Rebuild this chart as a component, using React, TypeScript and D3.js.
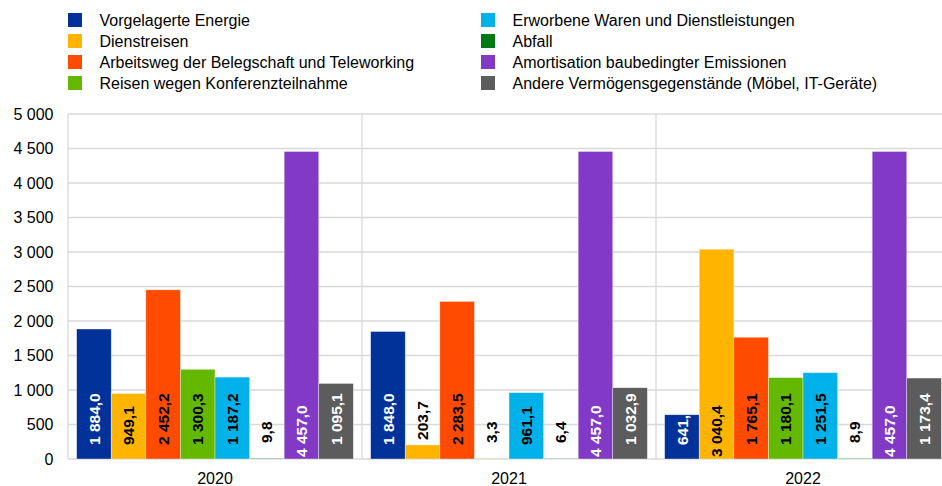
import React, { useEffect, useRef } from "react";
import * as d3 from "d3";

const years = ["2020", "2021", "2022"];
const seriesNames = [
  "Vorgelagerte Energie",
  "Dienstreisen",
  "Arbeitsweg der Belegschaft und Teleworking",
  "Reisen wegen Konferenzteilnahme",
  "Erworbene Waren und Dienstleistungen",
  "Abfall",
  "Amortisation baubedingter Emissionen",
  "Andere Vermögensgegenstände (Möbel, IT-Geräte)",
];
const colors = ["#003299", "#FFB400", "#FF4B00", "#65B800", "#00B1EA", "#007816", "#8139C6", "#5C5C5C"];
const labelColors = ["#fff", "#000", "#000", "#000", "#000", "#000", "#fff", "#fff"];
const values2020 = [1884.0, 949.1, 2452.2, 1300.3, 1187.2, 9.8, 4457.0, 1095.1];
const values2021 = [1848.0, 203.7, 2283.5, 3.3, 961.1, 6.4, 4457.0, 1032.9];
const values2022 = [641.3, 3040.4, 1765.1, 1180.1, 1251.5, 8.9, 4457.0, 1173.4];
const yTicks = [0, 500, 1000, 1500, 2000, 2500, 3000, 3500, 4000, 4500, 5000];

const W = 942;
const H = 486;
const FONT = "'Liberation Sans', Arial, sans-serif";

export default function App() {
  const ref = useRef<SVGSVGElement>(null);
  useEffect(() => {
    const svg = d3.select(ref.current);
    svg.selectAll("*").remove();
    const locale = d3.formatLocale({ decimal: ",", thousands: " ", grouping: [3], currency: ["", ""] });
    const fmtTick = locale.format(",.0f");
    const fmtVal = locale.format(",.1f");
    const data = [values2020, values2021, values2022];

    const left = 68, right = 950, top = 114, bottom = 459;
    const x0 = d3.scaleBand().domain(years).range([left, right]).paddingInner(0).paddingOuter(0);
    const x1 = d3.scaleBand().domain(seriesNames).range([0, x0.bandwidth()]).paddingOuter(0.25).paddingInner(0);
    const y = d3.scaleLinear().domain([0, 5000]).range([bottom, top]);

    // grid
    svg.append("g").selectAll("line").data(yTicks).join("line")
      .attr("x1", left).attr("x2", right).attr("y1", (d) => y(d)).attr("y2", (d) => y(d))
      .attr("stroke", "#d9d9d9").attr("stroke-width", 1.3);
    svg.append("g").selectAll("line").data(years.slice(1).concat(["end"])).join("line")
      .attr("x1", (d, i) => left + (i + 1) * x0.bandwidth()).attr("x2", (d, i) => left + (i + 1) * x0.bandwidth())
      .attr("y1", top).attr("y2", bottom).attr("stroke", "#d9d9d9").attr("stroke-width", 1.3);
    svg.append("line").attr("x1", left).attr("x2", left).attr("y1", top).attr("y2", bottom)
      .attr("stroke", "#d9d9d9").attr("stroke-width", 1.3);

    // y ticks
    svg.append("g").selectAll("text").data(yTicks).join("text")
      .attr("x", 53.5).attr("y", (d) => y(d)).attr("dy", "0.35em").attr("text-anchor", "end")
      .attr("font-family", FONT).attr("font-size", 16).attr("fill", "#000")
      .text((d) => fmtTick(d));

    // x labels
    svg.append("g").selectAll("text").data(years).join("text")
      .attr("x", (d) => (x0(d) as number) + x0.bandwidth() / 2).attr("y", 484)
      .attr("text-anchor", "middle").attr("font-family", FONT).attr("font-size", 16).attr("fill", "#000")
      .text((d) => d);

    // bars
    years.forEach((yr, gi) => {
      const g = svg.append("g").attr("transform", `translate(${x0(yr)},0)`);
      const rows = seriesNames.map((s, i) => ({ s, i, v: data[gi][i] }));
      g.selectAll("rect").data(rows).join("rect")
        .attr("x", (d) => x1(d.s) as number).attr("width", x1.bandwidth())
        .attr("y", (d) => y(d.v)).attr("height", (d) => bottom - y(d.v))
        .attr("fill", (d) => colors[d.i]).attr("stroke", "rgba(255,255,255,0.6)").attr("stroke-width", 0.6);
      g.selectAll("text").data(rows).join("text")
        .attr("transform", (d) => {
          const cx = (x1(d.s) as number) + x1.bandwidth() / 2;
          const inside = bottom - y(d.v) > 30;
          let by = d.v > 3000 ? bottom - 2 : bottom - 14;
          if (!inside) by = Math.min(bottom - 16, y(d.v) - 5);
          return `translate(${cx},${by}) rotate(-90)`;
        })
        .attr("dy", "0.36em").attr("text-anchor", "start")
        .attr("font-family", FONT).attr("font-size", 15.5).attr("font-weight", "bold")
        .attr("fill", (d) => (bottom - y(d.v) > 30 ? labelColors[d.i] : "#000"))
        .text((d) => fmtVal(d.v));
    });

    // legend
    const lg = svg.append("g");
    const rowsL = seriesNames.map((s, i) => ({ s, i, col: i < 4 ? 0 : 1, row: i % 4 }));
    const colX = [68, 481];
    lg.selectAll("rect").data(rowsL).join("rect")
      .attr("x", (d) => colX[d.col]).attr("y", (d) => 13 + d.row * 21).attr("width", 14).attr("height", 14)
      .attr("fill", (d) => colors[d.i]);
    lg.selectAll("text").data(rowsL).join("text")
      .attr("x", (d) => colX[d.col] + 31.5).attr("y", (d) => 20 + d.row * 21).attr("dy", "0.35em")
      .attr("font-family", FONT).attr("font-size", 16).attr("fill", "#000")
      .text((d) => d.s);
  }, []);
  return (
    <svg ref={ref} width={W} height={H} style={{ position: "absolute", left: 0, top: 0, background: "#fff" }} />
  );
}
